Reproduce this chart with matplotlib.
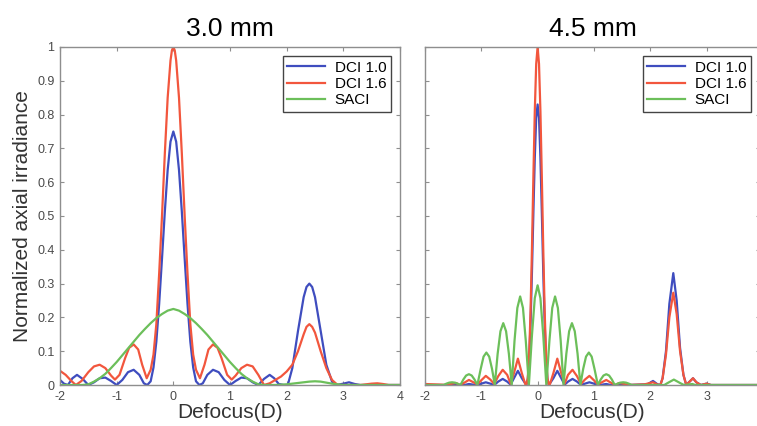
import numpy as np
from matplotlib import pyplot as plt

plt.rcParams['font.family'] = ['Liberation Sans', 'DejaVu Sans']

# ---- 3.0 mm panel ----
x_dci10_3 = [-2.0, -1.93, -1.86, -1.78, -1.7, -1.6, -1.5, -1.4, -1.3, -1.2, -1.1, -1.0,
             -0.9, -0.8, -0.7, -0.6, -0.52, -0.46, -0.4, -0.35, -0.3, -0.25, -0.2, -0.15,
             -0.1, -0.05, 0.0, 0.05, 0.1, 0.15, 0.2, 0.25, 0.3, 0.35, 0.4, 0.46, 0.52,
             0.6, 0.7, 0.8, 0.9, 1.0, 1.1, 1.2, 1.3, 1.4, 1.5, 1.6, 1.7, 1.78, 1.86,
             1.95, 2.02, 2.1, 2.2, 2.3, 2.35, 2.4, 2.45, 2.5, 2.6, 2.7, 2.8, 2.88, 3.0, 3.1, 3.2,
             3.3, 4.0]
y_dci10_3 = [0.015, 0.004, 0.0, 0.02, 0.03, 0.018, 0.0, 0.008, 0.02, 0.022, 0.012, 0.0,
             0.015, 0.038, 0.045, 0.03, 0.005, 0.0, 0.011, 0.052, 0.128, 0.24, 0.374, 0.513,
             0.636, 0.72, 0.75, 0.72, 0.636, 0.513, 0.374, 0.24, 0.128, 0.052, 0.011, 0.0, 0.005,
             0.03, 0.045, 0.038, 0.015, 0.0, 0.012, 0.022, 0.02, 0.008, 0.0, 0.018, 0.03, 0.02, 0.003,
             0.0, 0.0, 0.05, 0.16, 0.26, 0.29, 0.30, 0.29, 0.26, 0.16, 0.06, 0.01, 0.0, 0.004, 0.008, 0.003,
             0.0, 0.0]

x_dci16_3 = [-2.0, -1.9, -1.8, -1.72, -1.62, -1.5, -1.4, -1.3, -1.2, -1.1, -1.03, -0.95,
             -0.85, -0.78, -0.7, -0.62, -0.55, -0.47, -0.4, -0.35, -0.3, -0.25, -0.2, -0.15,
             -0.1, -0.05, -0.025, 0.0, 0.025, 0.05, 0.1, 0.15, 0.2, 0.25, 0.3, 0.35, 0.4, 0.47, 0.55,
             0.62, 0.7, 0.78, 0.85, 0.95, 1.03, 1.1, 1.2, 1.3, 1.4, 1.5, 1.6, 1.7, 1.8,
             1.9, 2.0, 2.1, 2.2, 2.3, 2.35, 2.4, 2.45, 2.5, 2.6, 2.7, 2.8, 2.9, 3.3, 3.5, 3.6, 3.7,
             3.8, 4.0]
y_dci16_3 = [0.042, 0.03, 0.012, 0.0, 0.012, 0.038, 0.055, 0.06, 0.05, 0.028, 0.016, 0.03,
             0.08, 0.11, 0.12, 0.105, 0.06, 0.02, 0.045, 0.09, 0.18, 0.33, 0.5, 0.685,
             0.85, 0.96, 0.99, 1.0, 0.99, 0.96, 0.85, 0.685, 0.5, 0.33, 0.18, 0.09, 0.045, 0.02, 0.06,
             0.105, 0.12, 0.11, 0.08, 0.03, 0.016, 0.028, 0.05, 0.06, 0.055, 0.03, 0.0, 0.005, 0.015,
             0.025, 0.04, 0.06, 0.1, 0.15, 0.172, 0.18, 0.172, 0.155, 0.1, 0.05, 0.015, 0.0, 0.0, 0.004,
             0.005, 0.003, 0.0, 0.0]

x_saci_3 = [-2.0, -1.8, -1.6, -1.5, -1.4, -1.3, -1.2, -1.1, -1.0, -0.9, -0.8, -0.7, -0.6,
            -0.5, -0.4, -0.3, -0.2, -0.1, 0.0, 0.1, 0.2, 0.3, 0.4, 0.5, 0.6, 0.7, 0.8, 0.9,
            1.0, 1.1, 1.2, 1.3, 1.4, 1.5, 1.6, 1.8, 2.0, 2.2, 2.4, 2.5, 2.6, 2.8, 3.0, 4.0]
y_saci_3 = [0.0, 0.0, 0.0, 0.002, 0.01, 0.02, 0.033, 0.05, 0.068, 0.088, 0.108, 0.128, 0.148,
            0.166, 0.183, 0.198, 0.21, 0.22, 0.225, 0.22, 0.21, 0.198, 0.183, 0.166, 0.148, 0.128,
            0.108, 0.088, 0.068, 0.05, 0.033, 0.02, 0.01, 0.002, 0.0, 0.0, 0.002, 0.006, 0.01,
            0.011, 0.01, 0.004, 0.0, 0.0]

# ---- 4.5 mm panel ----
x_dci10_45 = [-2.0, -1.6, -1.3, -1.22, -1.14, -1.07, -1.0, -0.92, -0.84, -0.77, -0.7, -0.62,
              -0.54, -0.48, -0.42, -0.35, -0.28, -0.2, -0.175, -0.15, -0.125, -0.1, -0.075,
              -0.05, -0.025, 0.0, 0.025, 0.05, 0.075, 0.1, 0.125, 0.15, 0.175, 0.2, 0.28,
              0.35, 0.42, 0.48, 0.54, 0.62, 0.7, 0.77, 0.84, 0.92, 1.0, 1.07, 1.14, 1.22,
              1.3, 1.6, 1.95, 2.05, 2.13, 2.18, 2.22, 2.28, 2.34, 2.41, 2.47, 2.53, 2.59,
              2.64, 2.7, 2.76, 2.82, 2.9, 3.0, 3.08, 3.95]
y_dci10_45 = [0.0, 0.0, 0.0, 0.003, 0.001, 0.0, 0.004, 0.008, 0.004, 0.0, 0.01, 0.018,
              0.01, 0.001, 0.02, 0.042, 0.02, 0.0, 0.016, 0.075, 0.184, 0.336, 0.51,
              0.672, 0.79, 0.83, 0.79, 0.672, 0.51, 0.336, 0.184, 0.075, 0.016, 0.0, 0.02,
              0.042, 0.02, 0.001, 0.01, 0.018, 0.01, 0.0, 0.004, 0.008, 0.004, 0.0, 0.001, 0.003,
              0.0, 0.0, 0.002, 0.012, 0.002, 0.0, 0.02, 0.1, 0.24, 0.331, 0.25, 0.11, 0.03,
              0.0, 0.01, 0.02, 0.008, 0.0, 0.004, 0.0, 0.0]

x_dci16_45 = [-2.0, -1.7, -1.6, -1.52, -1.45, -1.38, -1.3, -1.22, -1.14, -1.07, -1.0, -0.92,
              -0.84, -0.77, -0.7, -0.62, -0.54, -0.48, -0.42, -0.35, -0.28, -0.22, -0.2,
              -0.175, -0.15, -0.125, -0.1, -0.075, -0.05, -0.025, 0.0, 0.025, 0.05, 0.075,
              0.1, 0.125, 0.15, 0.175, 0.2, 0.22, 0.28, 0.35, 0.42, 0.48, 0.54, 0.62, 0.7,
              0.77, 0.84, 0.92, 1.0, 1.07, 1.14, 1.22, 1.3, 1.38, 1.45, 1.52, 1.6, 1.9,
              2.05, 2.12, 2.18, 2.22, 2.28, 2.34, 2.41, 2.47, 2.53, 2.59, 2.64, 2.7, 2.76,
              2.82, 2.9, 3.0, 3.08, 3.95]
y_dci16_45 = [0.003, 0.001, 0.0, 0.004, 0.006, 0.0, 0.007, 0.015, 0.008, 0.002, 0.014, 0.027,
              0.016, 0.003, 0.026, 0.045, 0.03, 0.004, 0.035, 0.078, 0.035, 0.003, 0.0,
              0.02, 0.09, 0.22, 0.405, 0.615, 0.81, 0.95, 1.0, 0.95, 0.81, 0.615,
              0.405, 0.22, 0.09, 0.02, 0.0, 0.003, 0.035, 0.078, 0.035, 0.004, 0.03, 0.045, 0.026,
              0.003, 0.016, 0.027, 0.014, 0.002, 0.008, 0.015, 0.007, 0.0, 0.006, 0.004, 0.0, 0.002,
              0.008, 0.002, 0.0, 0.02, 0.09, 0.2, 0.273, 0.21, 0.1, 0.03, 0.0, 0.01, 0.02,
              0.008, 0.0, 0.004, 0.0, 0.0]

x_saci_45 = [-2.0, -1.67, -1.62, -1.57, -1.52, -1.47, -1.42, -1.37, -1.32, -1.27, -1.22,
             -1.17, -1.12, -1.07, -1.01, -0.96, -0.91, -0.86, -0.81, -0.76, -0.71, -0.66,
             -0.61, -0.56, -0.51, -0.46, -0.41, -0.36, -0.31, -0.26, -0.21, -0.155, -0.1,
             -0.05, 0.0, 0.05, 0.1, 0.155, 0.21, 0.26, 0.31, 0.36, 0.41, 0.46, 0.51, 0.56,
             0.61, 0.66, 0.71, 0.76, 0.81, 0.86, 0.91, 0.96, 1.01, 1.07, 1.12, 1.17, 1.22,
             1.27, 1.32, 1.37, 1.42, 1.47, 1.52, 1.57, 1.62, 1.67, 2.25, 2.3, 2.42, 2.54,
             2.6, 2.7, 2.75, 2.8, 3.95]
y_saci_45 = [0.0, 0.0, 0.004, 0.007, 0.008, 0.007, 0.004, 0.0, 0.016, 0.028, 0.032,
             0.028, 0.016, 0.0, 0.048, 0.084, 0.096, 0.084, 0.048, 0.0, 0.092, 0.159,
             0.183, 0.159, 0.092, 0.0, 0.131, 0.228, 0.262, 0.228, 0.131, 0.0, 0.148,
             0.257, 0.295, 0.257, 0.148, 0.0, 0.131, 0.228, 0.262, 0.228, 0.131, 0.0, 0.092, 0.159,
             0.183, 0.159, 0.092, 0.0, 0.048, 0.084, 0.096, 0.084, 0.048, 0.0, 0.016, 0.028, 0.032,
             0.028, 0.016, 0.0, 0.004, 0.007, 0.008, 0.007, 0.004, 0.0, 0.0, 0.005, 0.016, 0.005,
             0.0, 0.002, 0.003, 0.0, 0.0]

labels = ["DCI 1.0", "DCI 1.6", "SACI"]
colors = ["#3F4DBF", "#F2563D", "#6CBF5A"]
titles = ["3.0 mm", "4.5 mm"]
y_ticks = [0, 0.1, 0.2, 0.3, 0.4, 0.5, 0.6, 0.7, 0.8, 0.9, 1]
y_ticklabels = ["0", "0.1", "0.2", "0.3", "0.4", "0.5", "0.6", "0.7", "0.8", "0.9", "1"]

panels = [
    [(x_dci10_3, y_dci10_3), (x_dci16_3, y_dci16_3), (x_saci_3, y_saci_3)],
    [(x_dci10_45, y_dci10_45), (x_dci16_45, y_dci16_45), (x_saci_45, y_saci_45)],
]

fig = plt.figure(figsize=(7.57, 4.26), dpi=100)
ax0 = fig.add_axes([60 / 757, 41 / 426, 340 / 757, 338 / 426])
ax1 = fig.add_axes([425 / 757, 41 / 426, 335 / 757, 338 / 426])

spine_col = "#8e8e8e"
for k, ax in enumerate([ax0, ax1]):
    for (xs, ys), lab, col in zip(panels[k], labels, colors):
        ax.plot(xs, ys, color=col, lw=1.6, label=lab, solid_joinstyle="round")
    ax.set_ylim(0, 1)
    ax.set_yticks(y_ticks)
    for sp in ax.spines.values():
        sp.set_color(spine_col)
        sp.set_linewidth(1.0)
    ax.tick_params(direction="in", length=3, width=0.8, color=spine_col,
                   labelcolor="#4a4a4a", labelsize=9, top=True, right=True, pad=4)
    ax.set_title(titles[k], fontsize=19, pad=8)
    ax.set_xlabel("Defocus(D)", fontsize=15, labelpad=0, color="#333333")
    leg = ax.legend(loc="upper right", fontsize=11, handlelength=2.5, borderpad=0.3,
                    labelspacing=0.15, handletextpad=0.6, fancybox=False, framealpha=1,
                    borderaxespad=0.6)
    leg.get_frame().set_edgecolor("#444444")
    leg.get_frame().set_linewidth(1.0)

ax0.set_xlim(-2, 4)
ax0.set_xticks([-2, -1, 0, 1, 2, 3, 4])
ax0.set_xticklabels(["-2", "-1", "0", "1", "2", "3", "4"])
ax0.set_yticklabels(y_ticklabels)
ax0.set_ylabel("Normalized axial irradiance", fontsize=15, color="#333333", labelpad=4)

ax1.set_xlim(-2, 3.95)
ax1.set_xticks([-2, -1, 0, 1, 2, 3])
ax1.set_xticklabels(["-2", "-1", "0", "1", "2", "3"])
ax1.set_yticklabels([])

fig.savefig("out.png", dpi=100)
